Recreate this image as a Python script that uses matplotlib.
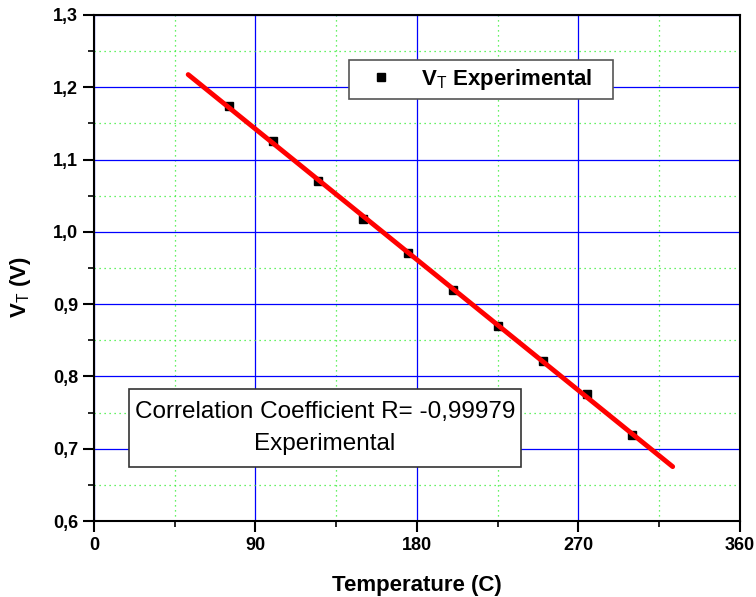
import numpy as np
import matplotlib.pyplot as plt
from matplotlib.patches import Rectangle
from matplotlib.ticker import MultipleLocator, FuncFormatter

temperature = [75, 100, 125, 150, 175, 200, 225, 250, 275, 300]
vt_exp = [1.174, 1.125, 1.071, 1.018, 0.971, 0.919, 0.870, 0.822, 0.775, 0.719]
r_text = "Correlation Coefficient R= -0,99979\nExperimental"

plt.rcParams['font.family'] = ['Liberation Sans', 'DejaVu Sans']
plt.rcParams['mathtext.fontset'] = 'custom'
plt.rcParams['mathtext.rm'] = 'Liberation Sans'
plt.rcParams['mathtext.bf'] = 'Liberation Sans:bold'

fig = plt.figure(figsize=(7.56, 5.97), dpi=100)
ax = fig.add_axes([0.1243, 0.1273, 0.8545, 0.8476])

# linear fit, drawn a little past the data on both sides
x = np.array(temperature)
y = np.array(vt_exp)
k, b = np.polyfit(x, y, 1)
span = x.max() - x.min()
xf = np.array([x.min() - 0.1 * span, x.max() + 0.1 * span])

ax.plot(x, y, 's', color='black', markersize=6, zorder=3, label=r'V$_\mathrm{T}$ Experimental   ')
ax.plot(xf, k * xf + b, color='red', lw=3.5, solid_capstyle='round', zorder=4)

ax.set_xlim(0, 360)
ax.set_ylim(0.6, 1.3)
ax.xaxis.set_major_locator(MultipleLocator(90))
ax.xaxis.set_minor_locator(MultipleLocator(45))
ax.yaxis.set_major_locator(MultipleLocator(0.1))
ax.yaxis.set_minor_locator(MultipleLocator(0.05))
ax.yaxis.set_major_formatter(FuncFormatter(lambda v, p: ('%.1f' % v).replace('.', ',')))

ax.grid(True, which='major', color='#0000ff', lw=0.9, ls='-')
ax.grid(True, which='minor', color='#33ee33', lw=0.9, ls=(0, (1, 3)))
ax.set_axisbelow(True)

for s in ax.spines.values():
    s.set_linewidth(1.5)
ax.tick_params(which='major', direction='out', length=8, width=1.5, labelsize=13)
ax.tick_params(which='minor', direction='out', length=4, width=1.2)
ax.tick_params(which='both', top=False)
for lab in ax.get_xticklabels() + ax.get_yticklabels():
    lab.set_fontweight('bold')

ax.set_xlabel('Temperature (C)', fontsize=16, fontweight='bold', labelpad=15)
ax.set_ylabel(r'V$_\mathrm{T}$ (V)', fontsize=16, fontweight='bold')
ax.yaxis.set_label_coords(-0.094, 0.462)

leg = ax.legend(loc='upper left', bbox_to_anchor=(0.395, 0.911), frameon=True, fancybox=False,
                fontsize=16, handletextpad=0.7, borderpad=0.32, handlelength=2.2,
                borderaxespad=0, markerscale=1.0)
leg.get_frame().set_edgecolor('#555555')
leg.get_frame().set_linewidth(1.2)
leg.get_frame().set_alpha(1)
for t in leg.get_texts():
    t.set_fontweight('bold')

# text box with the correlation coefficient
ax.add_patch(Rectangle((0.0542, 0.1067), 0.6068, 0.1542, transform=ax.transAxes,
                       fc='white', ec='#333333', lw=1.2, zorder=5))
ax.text(0.3576, 0.184, r_text, transform=ax.transAxes, ha='center', va='center',
        fontsize=17.5, linespacing=1.6, zorder=6)

fig.savefig('out.png', dpi=100)
